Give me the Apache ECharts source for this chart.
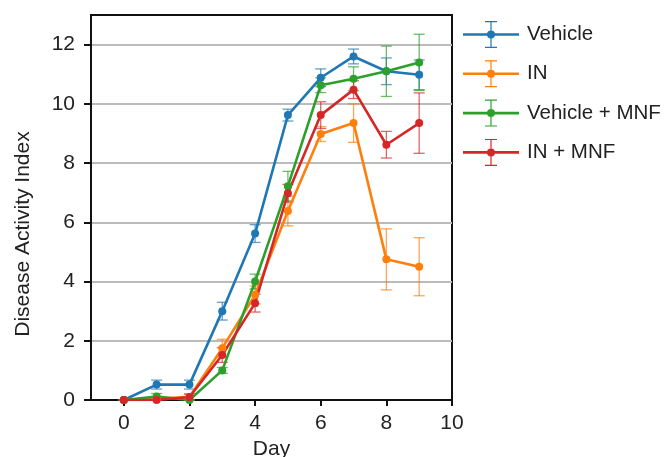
<!DOCTYPE html>
<html>
<head>
<meta charset="utf-8">
<script src="https://cdn.jsdelivr.net/npm/echarts@6/dist/echarts.min.js"></script>
<style>
  html, body { margin: 0; padding: 0; background: #fff; }
  #chart { width: 667px; height: 457px; }
</style>
</head>
<body>
<div id="chart"></div>
<script>
const days = [0, 1, 2, 3, 4, 5, 6, 7, 8, 9]
const groups = ['Vehicle', 'IN', 'Vehicle + MNF', 'IN + MNF']
const colors = ['#1f77b4', '#ff7f0e', '#2ca02c', '#d62728']

// mean disease activity index per day
const vehicle = [0, 0.52, 0.52, 3.0, 5.62, 9.62, 10.88, 11.6, 11.1, 10.98]
const inGroup = [0, 0.05, 0.1, 1.75, 3.55, 6.38, 8.98, 9.35, 4.75, 4.5]
const vehicleMnf = [0, 0.12, 0, 1.0, 4.0, 7.22, 10.63, 10.85, 11.1, 11.4]
const inMnf = [0, 0, 0.1, 1.52, 3.27, 6.98, 9.62, 10.48, 8.62, 9.35]

// error (SEM) per day
const vehicleErr = [0, 0.15, 0.15, 0.3, 0.3, 0.2, 0.3, 0.25, 0.45, 0.5]
const inErr = [0, 0.05, 0.1, 0.3, 0.3, 0.5, 0.25, 0.65, 1.03, 0.98]
const vehicleMnfErr = [0, 0.1, 0, 0.1, 0.25, 0.5, 0.25, 0.4, 0.85, 0.95]
const inMnfErr = [0, 0, 0.1, 0.25, 0.3, 0.3, 0.45, 0.3, 0.45, 1.02]

const xTicks = [0, 2, 4, 6, 8, 10]
const yTicks = [0, 2, 4, 6, 8, 10, 12]

const means = [vehicle, inGroup, vehicleMnf, inMnf]
const errs = [vehicleErr, inErr, vehicleMnfErr, inMnfErr]

const font = 'Liberation Sans, Arial, sans-serif'

// legend icon (56 x 27): line with error bar and dot
const legendIcon = 'path://M0 12.2L56 12.2L56 14.8L0 14.8Z' +
  'M27.4 0.6L28.6 0.6L28.6 26.4L27.4 26.4Z' +
  'M22 0L34 0L34 1.2L22 1.2Z' +
  'M22 25.8L34 25.8L34 27L22 27Z' +
  'M24 13.5A4 4 0 1 1 32 13.5A4 4 0 1 1 24 13.5Z'

const errorBar = (color) => (params, api) => {
  const x = api.value(0)
  const lo = api.coord([x, api.value(1)])
  const hi = api.coord([x, api.value(2)])
  const w = 5.5
  const style = { stroke: color, lineWidth: 1.3, opacity: 0.7 }
  return {
    type: 'group',
    children: [
      { type: 'line', shape: { x1: hi[0], y1: hi[1], x2: lo[0], y2: lo[1] }, style },
      { type: 'line', shape: { x1: hi[0] - w, y1: hi[1], x2: hi[0] + w, y2: hi[1] }, style },
      { type: 'line', shape: { x1: lo[0] - w, y1: lo[1], x2: lo[0] + w, y2: lo[1] }, style }
    ]
  }
}

const series = []
groups.forEach((name, i) => {
  series.push({
    type: 'custom',
    name: name + ' err',
    renderItem: errorBar(colors[i]),
    data: days.map((d, k) => [d, means[i][k] - errs[i][k], means[i][k] + errs[i][k]]),
    z: 3,
    silent: true
  })
})
groups.forEach((name, i) => {
  series.push({
    type: 'line',
    name: name,
    data: days.map((d, k) => [d, means[i][k]]),
    symbol: 'circle',
    symbolSize: 8,
    lineStyle: { width: 2.6, color: colors[i] },
    itemStyle: { color: colors[i] },
    z: 4
  })
})

const chart = echarts.init(document.getElementById('chart'))
chart.setOption({
  animation: false,
  color: colors,
  grid: {
    left: 91, right: 215, top: 15, bottom: 57,
    outerBoundsMode: 'none',
    show: true, borderColor: '#111', borderWidth: 2
  },
  legend: {
    data: groups,
    orient: 'vertical',
    left: 463,
    top: 21,
    padding: 0,
    itemWidth: 56,
    itemHeight: 27,
    itemGap: 12.3,
    icon: legendIcon,
    textStyle: { fontFamily: font, fontSize: 20.5, color: '#222', padding: [0, 0, 0, 3] }
  },
  graphic: [{
    type: 'text',
    x: 23,
    y: 234,
    rotation: Math.PI / 2,
    style: {
      text: 'Disease Activity Index',
      font: '21px ' + font,
      fill: '#222',
      align: 'center',
      verticalAlign: 'middle'
    }
  }],
  xAxis: {
    type: 'value',
    min: -1,
    max: 10,
    name: 'Day',
    nameLocation: 'middle',
    nameGap: 38,
    nameTextStyle: { fontFamily: font, fontSize: 21, color: '#222' },
    axisLine: { onZero: false, lineStyle: { color: '#111', width: 2 } },
    axisTick: { customValues: xTicks, length: 6, lineStyle: { color: '#111', width: 2 } },
    axisLabel: { customValues: xTicks, margin: 13, fontFamily: font, fontSize: 21, color: '#222' },
    splitLine: { show: false }
  },
  yAxis: {
    type: 'value',
    min: 0,
    max: 13,
    axisLine: { onZero: false, lineStyle: { color: '#111', width: 2 } },
    axisTick: { customValues: yTicks, length: 7, lineStyle: { color: '#111', width: 2 } },
    axisLabel: { customValues: yTicks, margin: 16, fontFamily: font, fontSize: 21, color: '#222' },
    splitLine: { show: true, lineStyle: { color: '#bbb', width: 2 } }
  },
  series: series
})
</script>
</body>
</html>
